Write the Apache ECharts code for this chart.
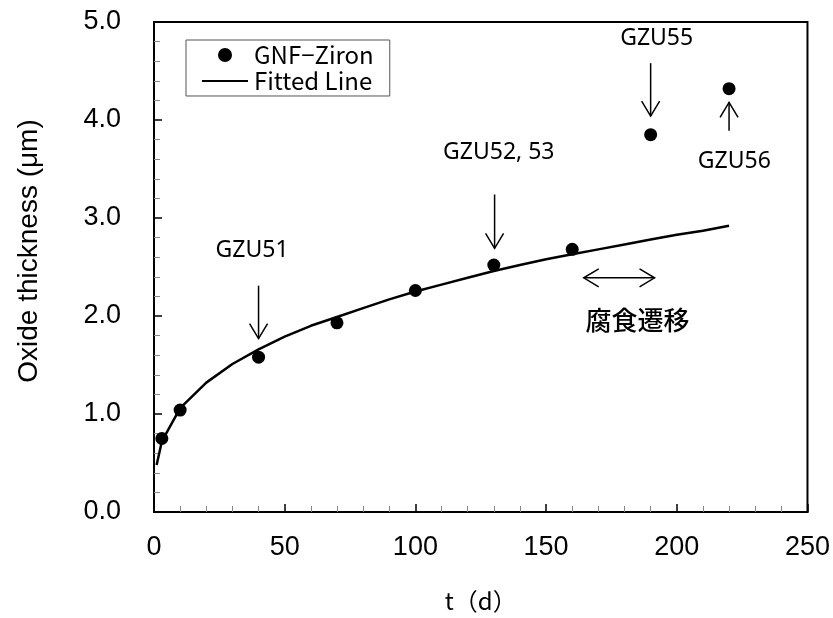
<!DOCTYPE html>
<html>
<head>
<meta charset="utf-8">
<script src="https://cdn.jsdelivr.net/npm/echarts@6/dist/echarts.min.js"></script>
<style>
html,body{margin:0;padding:0;background:#fff;}
#c{width:833px;height:618px;}
</style>
</head>
<body>
<div id="c"></div>
<script>
// ---- data ----
const measDays = [3, 10, 40, 70, 100, 130, 160, 190, 220];
const measOxide = [0.75, 1.04, 1.58, 1.93, 2.26, 2.52, 2.68, 3.85, 4.32];
const fitDays = [1, 3, 10, 20, 30, 40, 50, 60, 70, 80, 90, 100, 110, 120, 130, 140, 150, 160, 170, 180, 190, 200, 210, 220];
const fitOxide = [0.48, 0.72, 1.06, 1.32, 1.51, 1.66, 1.79, 1.90, 1.99, 2.08, 2.17, 2.25, 2.32, 2.39, 2.46, 2.52, 2.58, 2.63, 2.68, 2.73, 2.78, 2.83, 2.87, 2.92];
const seriesNames = ['GNF\u2212Ziron', 'Fitted Line'];
const xTicks = [0, 50, 100, 150, 200, 250];
const yTicks = [0, 1, 2, 3, 4, 5];

// annotation definitions (data coordinates)
const labelTexts = ['GZU51', 'GZU52, 53', 'GZU55', 'GZU56', '腐食遷移'];
const labelAt = [[37.5, 2.67], [131.9, 3.67], [192.3, 4.83], [222, 3.58], [185, 1.96]];
const arrowDefs = [[40, 2.31, 1.77], [130.3, 3.24, 2.69], [190, 4.58, 4.04], [220, 3.89, 4.18]];
const dblArrow = [164.4, 191.5, 2.39];

const chart = echarts.init(document.getElementById('c'), null, {renderer: 'canvas'});

const axisFont = 'Liberation Sans, Arial, sans-serif';
const option = {
  animation: false,
  backgroundColor: '#fff',
  grid: {left: 154, right: 25, top: 22, bottom: 103, show: true, borderColor: '#000', borderWidth: 2, containLabel: false},
  legend: {
    show: true,
    orient: 'vertical',
    left: 186, top: 40,
    padding: [3, 16, 3, 16],
    itemGap: 2,
    itemWidth: 46, itemHeight: 14,
    borderColor: '#555', borderWidth: 1,
    backgroundColor: '#fff',
    textStyle: {fontFamily: 'Noto Sans CJK JP', fontSize: 24, color: '#000', padding: [0, 0, 0, 1]},
    data: [
      {name: seriesNames[0], icon: 'circle', itemStyle: {color: '#000'}},
      {name: seriesNames[1], icon: 'path://M0,0L46,0L46,2L0,2Z', itemStyle: {color: '#000'}}
    ]
  },
  xAxis: {
    type: 'value', min: 0, max: 250, interval: 50,
    name: 't（d）', nameLocation: 'middle', nameGap: 77,
    nameTextStyle: {fontFamily: 'Noto Sans CJK JP', fontSize: 24, color: '#000'},
    axisLine: {show: true, lineStyle: {color: '#000', width: 2}},
    axisTick: {show: true, inside: true, length: 8, lineStyle: {color: '#000', width: 1.5}},
    minorTick: {show: true, splitNumber: 5, length: 6, lineStyle: {color: '#888', width: 1}},
    splitLine: {show: false},
    axisLabel: {fontFamily: axisFont, fontSize: 27, color: '#000', margin: 22,
      formatter: v => xTicks.includes(v) ? String(v) : ''}
  },
  yAxis: {
    type: 'value', min: 0, max: 5, interval: 1,
    name: 'Oxide thickness (μm)', nameLocation: 'middle', nameGap: 111,
    nameTextStyle: {fontFamily: axisFont, fontSize: 28, color: '#000', padding: [0, 0, 0, 32]},
    axisLine: {show: true, lineStyle: {color: '#000', width: 2}},
    axisTick: {show: true, inside: true, length: 8, lineStyle: {color: '#000', width: 1.5}},
    minorTick: {show: true, splitNumber: 5, length: 6, lineStyle: {color: '#888', width: 1}},
    splitLine: {show: false},
    axisLabel: {fontFamily: axisFont, fontSize: 27, color: '#000', margin: 33,
      formatter: v => yTicks.includes(v) ? v.toFixed(1) : ''}
  },
  series: [
    {
      name: seriesNames[1], type: 'line', showSymbol: false, symbol: 'none',
      data: fitDays.map((d, i) => [d, fitOxide[i]]),
      lineStyle: {color: '#000', width: 2.5}, itemStyle: {color: '#000'}, z: 2
    },
    {
      name: seriesNames[0], type: 'scatter', symbol: 'circle', symbolSize: 13,
      data: measDays.map((d, i) => [d, measOxide[i]]),
      itemStyle: {color: '#000', opacity: 1}, z: 3
    }
  ]
};
chart.setOption(option);

function px(p) { return chart.convertToPixel({gridIndex: 0}, p); }
const g = [];
labelTexts.forEach((t, i) => {
  const p = px(labelAt[i]);
  const cjk = i === 4;
  g.push({type: 'text', x: p[0], y: p[1], silent: true,
    style: {text: t, fill: '#000', font: cjk ? '500 26px "Noto Sans CJK JP"' : '23px "Noto Sans"', align: 'center', verticalAlign: 'middle'}});
});
const head = 15, half = 9;
arrowDefs.forEach(a => {
  const s = px([a[0], a[1]]), e = px([a[0], a[2]]);
  const dir = e[1] > s[1] ? 1 : -1;
  g.push({type: 'line', silent: true, shape: {x1: s[0], y1: s[1], x2: e[0], y2: e[1]}, style: {stroke: '#000', lineWidth: 1.5}});
  g.push({type: 'polyline', silent: true, shape: {points: [[e[0] - half, e[1] - dir * head], [e[0], e[1]], [e[0] + half, e[1] - dir * head]]}, style: {stroke: '#000', lineWidth: 1.5, fill: null}});
});
{
  const s = px([dblArrow[0], dblArrow[2]]), e = px([dblArrow[1], dblArrow[2]]);
  g.push({type: 'line', silent: true, shape: {x1: s[0], y1: s[1], x2: e[0], y2: e[1]}, style: {stroke: '#000', lineWidth: 1.5}});
  g.push({type: 'polyline', silent: true, shape: {points: [[s[0] + head, s[1] - half], [s[0], s[1]], [s[0] + head, s[1] + half]]}, style: {stroke: '#000', lineWidth: 1.5, fill: null}});
  g.push({type: 'polyline', silent: true, shape: {points: [[e[0] - head, e[1] - half], [e[0], e[1]], [e[0] - head, e[1] + half]]}, style: {stroke: '#000', lineWidth: 1.5, fill: null}});
}
chart.setOption({graphic: g});
</script>
</body>
</html>
